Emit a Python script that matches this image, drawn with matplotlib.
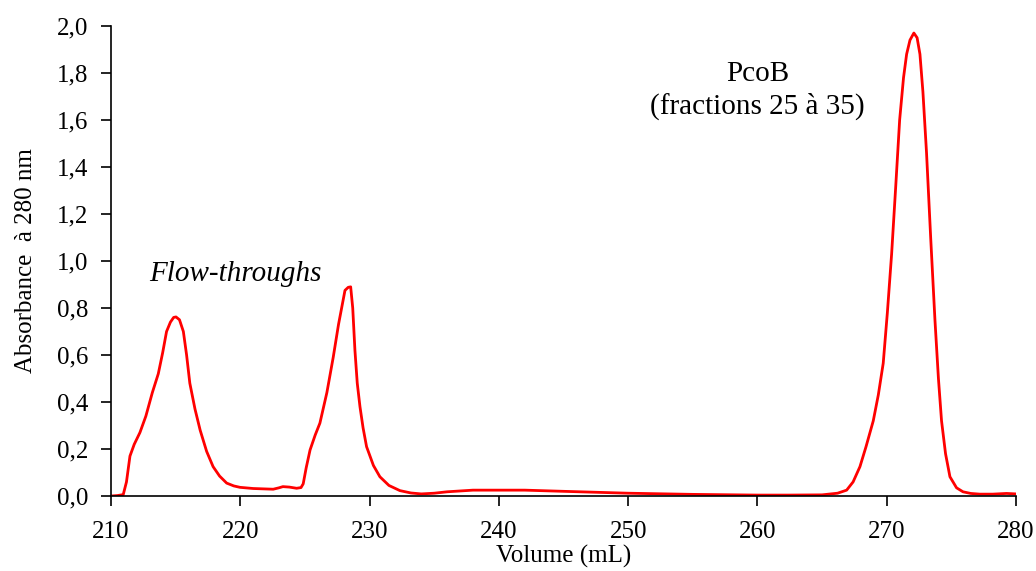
import matplotlib.pyplot as plt
import numpy as np

plt.rcParams['font.family'] = ['Liberation Serif', 'DejaVu Serif']

# chromatogram
volume = [210.0, 210.5, 210.95, 211.2, 211.47, 211.8, 212.24, 212.7, 213.2, 213.66,
          214.0, 214.3, 214.6, 214.85, 215.03, 215.3, 215.6, 215.85, 216.1, 216.5,
          216.9, 217.4, 217.9, 218.4, 218.95, 219.5, 219.98, 221.0, 222.55, 223.0,
          223.3, 223.8, 224.36, 224.7, 224.87, 225.1, 225.4, 225.8, 226.16, 226.7,
          227.19, 227.6, 228.1, 228.35, 228.54, 228.7, 228.87, 229.05, 229.26, 229.5,
          229.77, 230.3, 230.8, 231.5, 232.35, 233.2, 234.0, 235.0, 236.0, 238.0,
          242.0, 245.0, 250.0, 255.0, 260.0, 262.4, 265.0, 266.2, 266.9, 267.4,
          267.93, 268.4, 268.96, 269.35, 269.73, 270.05, 270.38, 270.7, 271.0, 271.3,
          271.54, 271.8, 272.1, 272.35, 272.57, 272.8, 273.08, 273.4, 273.73, 274.0,
          274.24, 274.55, 274.89, 275.4, 275.9, 276.5, 277.2, 278.2, 279.27, 280.0]
absorbance = [0.0, 0.002, 0.006, 0.06, 0.17, 0.22, 0.27, 0.34, 0.44, 0.52,
              0.61, 0.70, 0.74, 0.76, 0.762, 0.75, 0.70, 0.60, 0.48, 0.37,
              0.28, 0.19, 0.125, 0.085, 0.055, 0.043, 0.037, 0.032, 0.029, 0.035,
              0.04, 0.038, 0.033, 0.036, 0.052, 0.12, 0.196, 0.26, 0.31, 0.44,
              0.59, 0.73, 0.875, 0.888, 0.89, 0.80, 0.62, 0.48, 0.38, 0.29,
              0.21, 0.13, 0.082, 0.045, 0.023, 0.013, 0.009, 0.012, 0.018, 0.025,
              0.025, 0.02, 0.012, 0.007, 0.004, 0.004, 0.005, 0.012, 0.025, 0.06,
              0.125, 0.21, 0.32, 0.43, 0.565, 0.78, 1.03, 1.32, 1.60, 1.78,
              1.88, 1.94, 1.97, 1.95, 1.88, 1.72, 1.46, 1.10, 0.75, 0.50,
              0.32, 0.18, 0.082, 0.035, 0.018, 0.011, 0.008, 0.008, 0.011, 0.009]

x_ticks = [210, 220, 230, 240, 250, 260, 270, 280]
y_ticks = [0.0, 0.2, 0.4, 0.6, 0.8, 1.0, 1.2, 1.4, 1.6, 1.8, 2.0]

fig = plt.figure(figsize=(10.36, 5.71), dpi=100)
ax = fig.add_axes([0.1071, 0.1313, 0.8736, 0.8232])

ax.plot(volume, absorbance, color='#ff0000', lw=2.0, solid_joinstyle='round')

ax.set_xlim(210, 280)
ax.set_ylim(0, 2.0)
ax.set_xticks(x_ticks)
ax.set_yticks(y_ticks)
ax.set_yticklabels([f'{v:.1f}'.replace('.', ',') for v in y_ticks])
ax.tick_params(labelsize=18, direction='out', length=7, width=1.2, colors='black')
ax.tick_params(axis='y', pad=9)
ax.tick_params(axis='x', pad=11)
for s in ['top', 'right']:
    ax.spines[s].set_visible(False)
for s in ['left', 'bottom']:
    ax.spines[s].set_linewidth(1.2)

ax.set_xlabel('Volume (mL)', fontsize=18, labelpad=1)
ax.set_ylabel('Absorbance  à 280 nm', fontsize=18, labelpad=15)

ax.text(219.6, 0.945, 'Flow-throughs', fontsize=21, style='italic', ha='center', va='center')
ax.text(260.0, 1.725, 'PcoB\n(fractions 25 à 35)', fontsize=21, ha='center', va='center',
        linespacing=1.25)

fig.savefig('out.png', dpi=100)
